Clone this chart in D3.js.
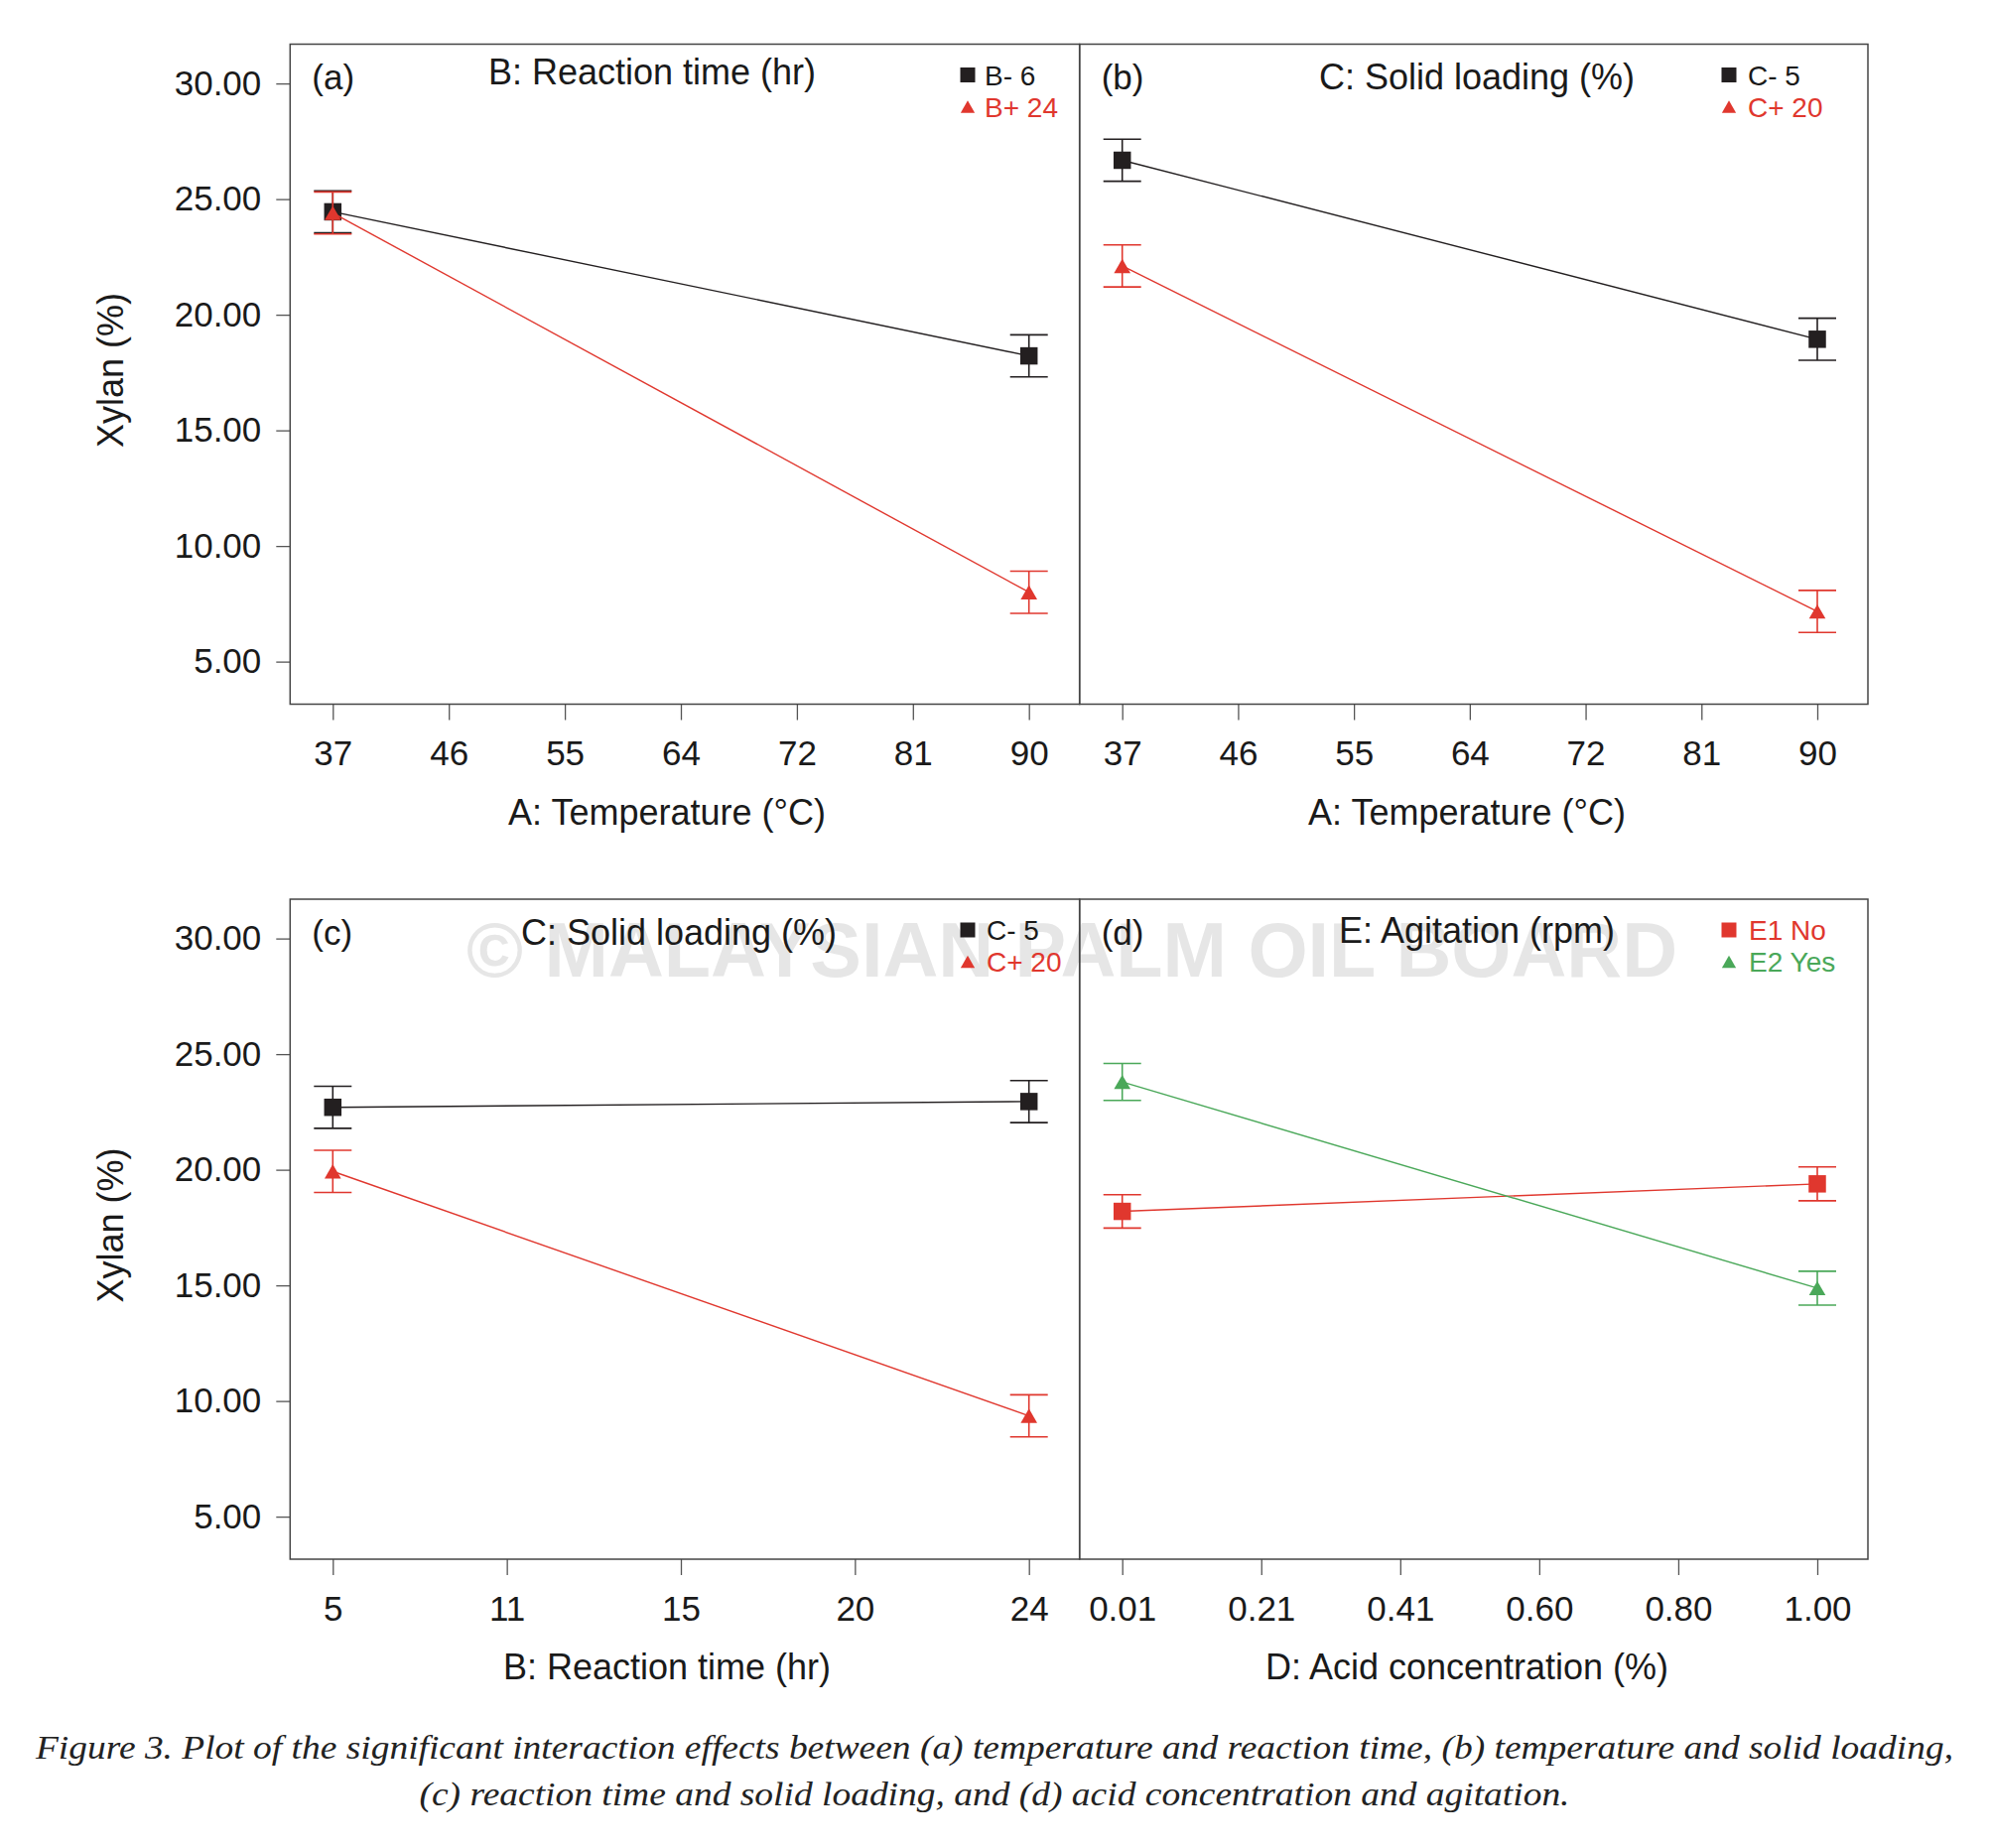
<!DOCTYPE html>
<html>
<head>
<meta charset="utf-8">
<script src="https://cdn.jsdelivr.net/npm/d3@7"></script>
<style>
  html, body { margin: 0; padding: 0; background: #fff; }
  svg { display: block; }
  text { font-family: "Liberation Sans", Arial, Helvetica, sans-serif; }
</style>
</head>
<body>
<svg id="chart" width="2004" height="1862"></svg>
<script>
// ---------------- DATA ----------------
const panelLabels   = ["(a)", "(b)", "(c)", "(d)"];
const factorTitles  = ["B: Reaction time (hr)", "C: Solid loading (%)", "C: Solid loading (%)", "E: Agitation (rpm)"];
const xAxisTitles   = ["A: Temperature (°C)", "A: Temperature (°C)", "B: Reaction time (hr)", "D: Acid concentration (%)"];
const yAxisTitle    = "Xylan (%)";
const yTickValues   = [5, 10, 15, 20, 25, 30];

const xLevelsA = [37, 90];
const xLevelsB = [37, 90];
const xLevelsC = [5, 24];
const xLevelsD = [0.01, 1.00];

const xTickLabelsA = ["37", "46", "55", "64", "72", "81", "90"];
const xTickLabelsB = ["37", "46", "55", "64", "72", "81", "90"];
const xTickLabelsC = ["5", "11", "15", "20", "24"];
const xTickLabelsD = ["0.01", "0.21", "0.41", "0.60", "0.80", "1.00"];

const seriesNamesA = ["B- 6", "B+ 24"];
const seriesNamesB = ["C- 5", "C+ 20"];
const seriesNamesC = ["C- 5", "C+ 20"];
const seriesNamesD = ["E1 No", "E2 Yes"];

// mean xylan (%) at the low and high level of the x factor
const meansA = [[24.45, 18.22], [24.40, 8.00]];
const meansB = [[26.68, 18.94], [22.11, 7.17]];
const meansC = [[22.70, 22.95], [19.93, 9.36]];
const meansD = [[18.20, 19.39], [23.80, 14.88]];

// half-width of the error bars
const errorsA = [[0.91, 0.91], [0.91, 0.91]];
const errorsB = [[0.91, 0.91], [0.91, 0.91]];
const errorsC = [[0.91, 0.91], [0.91, 0.91]];
const errorsD = [[0.72, 0.73], [0.80, 0.73]];

const captionLines = [
  "Figure 3. Plot of the significant interaction effects between (a) temperature and reaction time, (b) temperature and solid loading,",
  "(c) reaction time and solid loading, and (d) acid concentration and agitation."
];
const watermarkText = "© MALAYSIAN PALM OIL BOARD";

// ---------------- STYLE / LAYOUT ----------------
const BLACK = "#231f20", RED = "#e0372e", GREEN = "#4aa859";
const seriesStyles = [
  [{color: BLACK, shape: "square"}, {color: RED, shape: "triangle"}],
  [{color: BLACK, shape: "square"}, {color: RED, shape: "triangle"}],
  [{color: BLACK, shape: "square"}, {color: RED, shape: "triangle"}],
  [{color: RED, shape: "square"}, {color: GREEN, shape: "triangle"}]
];
const frames = [
  {x0: 292.3, x1: 1087.7, y0: 44.5, y1: 709.5},
  {x0: 1087.7, x1: 1882, y0: 44.5, y1: 709.5},
  {x0: 292.3, x1: 1087.7, y0: 906, y1: 1571},
  {x0: 1087.7, x1: 1882, y0: 906, y1: 1571}
];
const titleX = [657, 1488, 684, 1488];
const titleDy = [40, 45, 46, 44];
const legendX = [975, 1742, 975, 1742];
const legendTextX = [992, 1761, 994, 1762];
const xTitleX = [672, 1478, 672, 1478];
const yDomain = [3.16, 31.7];

const panels = [
  {levels: xLevelsA, ticks: xTickLabelsA, names: seriesNamesA, means: meansA, errs: errorsA},
  {levels: xLevelsB, ticks: xTickLabelsB, names: seriesNamesB, means: meansB, errs: errorsB},
  {levels: xLevelsC, ticks: xTickLabelsC, names: seriesNamesC, means: meansC, errs: errorsC},
  {levels: xLevelsD, ticks: xTickLabelsD, names: seriesNamesD, means: meansD, errs: errorsD}
];

const svg = d3.select("#chart");
svg.append("rect").attr("width", 2004).attr("height", 1862).attr("fill", "#fff");

// watermark (behind)
svg.append("text")
  .attr("x", 470).attr("y", 984)
  .attr("textLength", 1220).attr("lengthAdjust", "spacingAndGlyphs")
  .style("font-size", "77px").style("font-weight", "bold")
  .attr("fill", "#e6e6e6")
  .text(watermarkText);

function markerPath(shape, size) {
  if (shape === "square") {
    const h = size / 2;
    return `M${-h},${-h}H${h}V${h}H${-h}Z`;
  }
  const w = size * 0.95 / 2, hh = size * 0.82;
  return `M0,${-hh / 2}L${w},${hh / 2}L${-w},${hh / 2}Z`;
}

panels.forEach((p, i) => {
  const f = frames[i];
  const g = svg.append("g");
  const x = d3.scaleLinear().domain(p.levels).range([f.x0 + 43, f.x1 - 51]);
  const y = d3.scaleLinear().domain(yDomain).range([f.y1, f.y0]);

  // x axis
  const n = p.ticks.length;
  const tickVals = d3.range(n).map(k => p.levels[0] + k * (p.levels[1] - p.levels[0]) / (n - 1));
  const xAxis = g.append("g")
    .attr("transform", `translate(0,${f.y1})`)
    .call(d3.axisBottom(x).tickValues(tickVals).tickFormat((d, k) => p.ticks[k]).tickSize(16).tickPadding(20));
  xAxis.select(".domain").remove();
  xAxis.selectAll(".tick line").attr("stroke", "#555").attr("stroke-width", 1.3);
  xAxis.selectAll(".tick text").attr("fill", "#1a1a1a").style("font-size", "35px")
    .attr("dy", null).attr("y", 61.5).style("dominant-baseline", "alphabetic");

  // y axis on left panels
  if (i % 2 === 0) {
    const yAxis = g.append("g")
      .attr("transform", `translate(${f.x0},0)`)
      .call(d3.axisLeft(y).tickValues(yTickValues).tickFormat(d3.format(".2f")).tickSize(14).tickPadding(15));
    yAxis.select(".domain").remove();
    yAxis.selectAll(".tick line").attr("stroke", "#555").attr("stroke-width", 1.3);
    yAxis.selectAll(".tick text").attr("fill", "#1a1a1a").style("font-size", "35px");

    const cy = (f.y0 + f.y1) / 2 - 4;
    svg.append("text")
      .attr("transform", `translate(124,${cy}) rotate(-90)`)
      .attr("text-anchor", "middle")
      .attr("fill", "#1a1a1a")
      .style("font-size", "36px")
      .text(yAxisTitle);
  }

  // frame
  g.append("rect")
    .attr("x", f.x0).attr("y", f.y0)
    .attr("width", f.x1 - f.x0).attr("height", f.y1 - f.y0)
    .attr("fill", "none").attr("stroke", "#444").attr("stroke-width", 1.5);

  // x axis title
  svg.append("text")
    .attr("x", xTitleX[i]).attr("y", f.y1 + 121)
    .attr("text-anchor", "middle").attr("fill", "#1a1a1a")
    .style("font-size", "36px")
    .text(xAxisTitles[i]);

  // panel label and factor title
  g.append("text").attr("x", f.x0 + 22).attr("y", f.y0 + 45.5)
    .attr("fill", "#1a1a1a").style("font-size", "35px").text(panelLabels[i]);
  g.append("text").attr("x", titleX[i]).attr("y", f.y0 + titleDy[i])
    .attr("text-anchor", "middle").attr("fill", "#1a1a1a")
    .style("font-size", "36px").text(factorTitles[i]);

  // series
  p.means.forEach((vals, s) => {
    const st = seriesStyles[i][s];
    const pts = vals.map((v, k) => ({x: p.levels[k], y: v, e: p.errs[s][k]}));
    g.append("path")
      .datum(pts)
      .attr("d", d3.line().x(d => x(d.x)).y(d => y(d.y)))
      .attr("fill", "none").attr("stroke", st.color).attr("stroke-width", 1.4);

    const eb = g.append("g").attr("stroke", st.color).attr("stroke-width", 1.6);
    pts.forEach(d => {
      const cx = x(d.x);
      eb.append("line").attr("x1", cx).attr("x2", cx).attr("y1", y(d.y + d.e)).attr("y2", y(d.y - d.e));
      eb.append("line").attr("x1", cx - 19).attr("x2", cx + 19).attr("y1", y(d.y + d.e)).attr("y2", y(d.y + d.e));
      eb.append("line").attr("x1", cx - 19).attr("x2", cx + 19).attr("y1", y(d.y - d.e)).attr("y2", y(d.y - d.e));
    });

    g.selectAll(null).data(pts).enter().append("path")
      .attr("transform", d => `translate(${x(d.x)},${y(d.y)})`)
      .attr("d", markerPath(st.shape, 17.5))
      .attr("fill", st.color);

    // legend
    const ly = f.y0 + 31 + s * 32;
    g.append("path")
      .attr("transform", `translate(${legendX[i]},${ly})`)
      .attr("d", markerPath(st.shape, 15))
      .attr("fill", st.color);
    g.append("text")
      .attr("x", legendTextX[i]).attr("y", ly + 10)
      .attr("fill", st.color === BLACK ? "#1a1a1a" : st.color)
      .style("font-size", "28px")
      .text(p.names[s]);
  });
});

// caption
const capY = [1772, 1819];
const capLen = [1932, 1159];
captionLines.forEach((t, k) => {
  svg.append("text")
    .attr("x", 1002).attr("y", capY[k])
    .attr("text-anchor", "middle")
    .attr("textLength", capLen[k]).attr("lengthAdjust", "spacingAndGlyphs")
    .style("font-family", "'Liberation Serif', 'DejaVu Serif', serif")
    .style("font-style", "italic")
    .style("font-size", "33px")
    .attr("fill", "#222")
    .text(t);
});
</script>
</body>
</html>
